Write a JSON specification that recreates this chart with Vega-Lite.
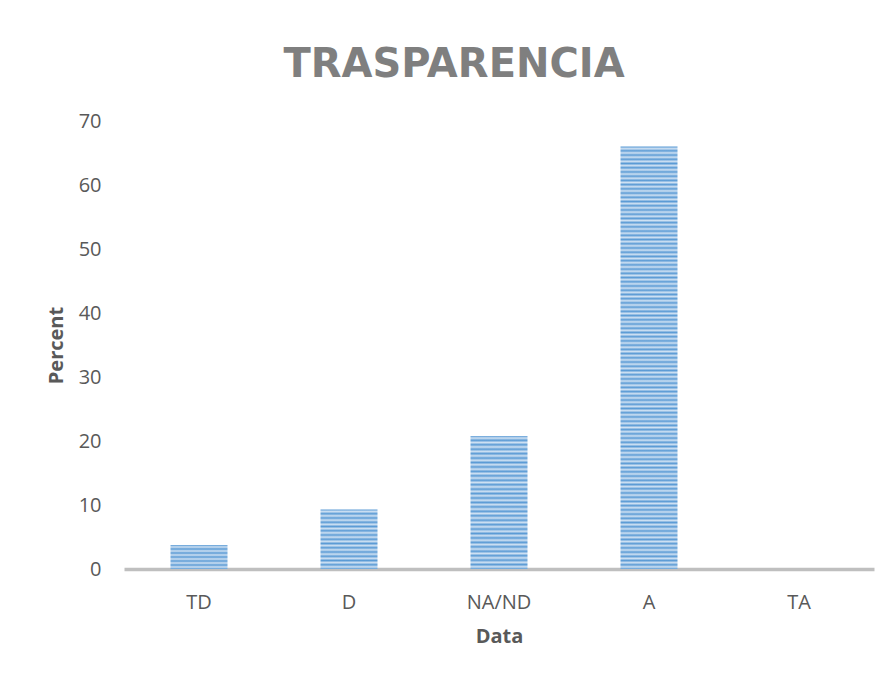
{
  "$schema": "https://vega.github.io/schema/vega-lite/v6.json",
  "autosize": "none",
  "width": 750,
  "height": 448,
  "padding": {"left": 124, "top": 121, "right": 17, "bottom": 107},
  "background": "white",
  "title": {
    "text": "TRASPARENCIA",
    "font": "DejaVu Sans",
    "fontSize": 40,
    "fontWeight": "bold",
    "color": "#7f7f7f",
    "anchor": "middle",
    "dx": -45,
    "dy": 38,
    "baseline": "alphabetic",
    "offset": 32
  },
  "data": {
    "values": [
      {"cat": "TD", "pct": 3.75},
      {"cat": "D", "pct": 9.3},
      {"cat": "NA/ND", "pct": 20.8},
      {"cat": "A", "pct": 66},
      {"cat": "TA", "pct": 0}
    ]
  },
  "mark": {"type": "bar"},
  "encoding": {
    "x": {
      "field": "cat",
      "type": "nominal",
      "sort": null,
      "scale": {"paddingInner": 0.62, "paddingOuter": 0.31},
      "axis": {
        "title": "Data",
        "labelAngle": 0,
        "domain": true,
        "domainColor": "#bfbfbf",
        "domainWidth": 3.5,
        "ticks": false,
        "grid": false,
        "labelFont": "Open Sans",
        "labelFontSize": 20,
        "labelColor": "#595959",
        "labelPadding": 23,
        "titleFont": "Open Sans",
        "titleFontSize": 20,
        "titleFontWeight": "bold",
        "titleColor": "#595959",
        "titlePadding": 14
      }
    },
    "y": {
      "field": "pct",
      "type": "quantitative",
      "scale": {"domain": [0, 70], "nice": false},
      "axis": {
        "title": "Percent",
        "values": [0, 10, 20, 30, 40, 50, 60, 70],
        "domain": false,
        "ticks": false,
        "grid": false,
        "labelFont": "Open Sans",
        "labelFontSize": 20,
        "labelColor": "#595959",
        "labelPadding": 23,
        "titleFont": "Open Sans",
        "titleFontSize": 20,
        "titleFontWeight": "bold",
        "titleColor": "#595959",
        "titlePadding": 12
      }
    },
    "fill": {
      "condition": [
        {"test": "datum.cat === 'TD'", "value": {"gradient": "linear", "x1": 0, "y1": 0, "x2": 0, "y2": 1, "stops": [
          {"offset": 0, "color": "#5b9bd5"}, {"offset": 0.0833, "color": "#cfe1f3"}, {"offset": 0.1667, "color": "#5b9bd5"}, {"offset": 0.25, "color": "#cfe1f3"}, {"offset": 0.3333, "color": "#5b9bd5"}, {"offset": 0.4167, "color": "#cfe1f3"}, {"offset": 0.5, "color": "#5b9bd5"}, {"offset": 0.5833, "color": "#cfe1f3"}, {"offset": 0.6667, "color": "#5b9bd5"}, {"offset": 0.75, "color": "#cfe1f3"}, {"offset": 0.8333, "color": "#5b9bd5"}, {"offset": 0.9167, "color": "#cfe1f3"}, {"offset": 1, "color": "#5b9bd5"}
        ]}},
        {"test": "datum.cat === 'D'", "value": {"gradient": "linear", "x1": 0, "y1": 0, "x2": 0, "y2": 1, "stops": [
          {"offset": 0, "color": "#5b9bd5"}, {"offset": 0.0357, "color": "#cfe1f3"}, {"offset": 0.0714, "color": "#5b9bd5"}, {"offset": 0.1071, "color": "#cfe1f3"}, {"offset": 0.1429, "color": "#5b9bd5"}, {"offset": 0.1786, "color": "#cfe1f3"}, {"offset": 0.2143, "color": "#5b9bd5"}, {"offset": 0.25, "color": "#cfe1f3"}, {"offset": 0.2857, "color": "#5b9bd5"}, {"offset": 0.3214, "color": "#cfe1f3"}, {"offset": 0.3571, "color": "#5b9bd5"}, {"offset": 0.3929, "color": "#cfe1f3"}, {"offset": 0.4286, "color": "#5b9bd5"}, {"offset": 0.4643, "color": "#cfe1f3"}, {"offset": 0.5, "color": "#5b9bd5"}, {"offset": 0.5357, "color": "#cfe1f3"}, {"offset": 0.5714, "color": "#5b9bd5"}, {"offset": 0.6071, "color": "#cfe1f3"}, {"offset": 0.6429, "color": "#5b9bd5"}, {"offset": 0.6786, "color": "#cfe1f3"}, {"offset": 0.7143, "color": "#5b9bd5"}, {"offset": 0.75, "color": "#cfe1f3"}, {"offset": 0.7857, "color": "#5b9bd5"}, {"offset": 0.8214, "color": "#cfe1f3"}, {"offset": 0.8571, "color": "#5b9bd5"}, {"offset": 0.8929, "color": "#cfe1f3"}, {"offset": 0.9286, "color": "#5b9bd5"}, {"offset": 0.9643, "color": "#cfe1f3"}, {"offset": 1, "color": "#5b9bd5"}
        ]}},
        {"test": "datum.cat === 'NA/ND'", "value": {"gradient": "linear", "x1": 0, "y1": 0, "x2": 0, "y2": 1, "stops": [
          {"offset": 0, "color": "#5b9bd5"}, {"offset": 0.0167, "color": "#cfe1f3"}, {"offset": 0.0333, "color": "#5b9bd5"}, {"offset": 0.05, "color": "#cfe1f3"}, {"offset": 0.0667, "color": "#5b9bd5"}, {"offset": 0.0833, "color": "#cfe1f3"}, {"offset": 0.1, "color": "#5b9bd5"}, {"offset": 0.1167, "color": "#cfe1f3"}, {"offset": 0.1333, "color": "#5b9bd5"}, {"offset": 0.15, "color": "#cfe1f3"}, {"offset": 0.1667, "color": "#5b9bd5"}, {"offset": 0.1833, "color": "#cfe1f3"}, {"offset": 0.2, "color": "#5b9bd5"}, {"offset": 0.2167, "color": "#cfe1f3"}, {"offset": 0.2333, "color": "#5b9bd5"}, {"offset": 0.25, "color": "#cfe1f3"}, {"offset": 0.2667, "color": "#5b9bd5"}, {"offset": 0.2833, "color": "#cfe1f3"}, {"offset": 0.3, "color": "#5b9bd5"}, {"offset": 0.3167, "color": "#cfe1f3"}, {"offset": 0.3333, "color": "#5b9bd5"}, {"offset": 0.35, "color": "#cfe1f3"}, {"offset": 0.3667, "color": "#5b9bd5"}, {"offset": 0.3833, "color": "#cfe1f3"}, {"offset": 0.4, "color": "#5b9bd5"}, {"offset": 0.4167, "color": "#cfe1f3"}, {"offset": 0.4333, "color": "#5b9bd5"}, {"offset": 0.45, "color": "#cfe1f3"}, {"offset": 0.4667, "color": "#5b9bd5"}, {"offset": 0.4833, "color": "#cfe1f3"}, {"offset": 0.5, "color": "#5b9bd5"}, {"offset": 0.5167, "color": "#cfe1f3"}, {"offset": 0.5333, "color": "#5b9bd5"}, {"offset": 0.55, "color": "#cfe1f3"}, {"offset": 0.5667, "color": "#5b9bd5"}, {"offset": 0.5833, "color": "#cfe1f3"}, {"offset": 0.6, "color": "#5b9bd5"}, {"offset": 0.6167, "color": "#cfe1f3"}, {"offset": 0.6333, "color": "#5b9bd5"}, {"offset": 0.65, "color": "#cfe1f3"}, {"offset": 0.6667, "color": "#5b9bd5"}, {"offset": 0.6833, "color": "#cfe1f3"}, {"offset": 0.7, "color": "#5b9bd5"}, {"offset": 0.7167, "color": "#cfe1f3"}, {"offset": 0.7333, "color": "#5b9bd5"}, {"offset": 0.75, "color": "#cfe1f3"}, {"offset": 0.7667, "color": "#5b9bd5"}, {"offset": 0.7833, "color": "#cfe1f3"}, {"offset": 0.8, "color": "#5b9bd5"}, {"offset": 0.8167, "color": "#cfe1f3"}, {"offset": 0.8333, "color": "#5b9bd5"}, {"offset": 0.85, "color": "#cfe1f3"}, {"offset": 0.8667, "color": "#5b9bd5"}, {"offset": 0.8833, "color": "#cfe1f3"}, {"offset": 0.9, "color": "#5b9bd5"}, {"offset": 0.9167, "color": "#cfe1f3"}, {"offset": 0.9333, "color": "#5b9bd5"}, {"offset": 0.95, "color": "#cfe1f3"}, {"offset": 0.9667, "color": "#5b9bd5"}, {"offset": 0.9833, "color": "#cfe1f3"}, {"offset": 1, "color": "#5b9bd5"}
        ]}},
        {"test": "datum.cat === 'A'", "value": {"gradient": "linear", "x1": 0, "y1": 0, "x2": 0, "y2": 1, "stops": [
          {"offset": 0, "color": "#5b9bd5"}, {"offset": 0.005, "color": "#cfe1f3"}, {"offset": 0.01, "color": "#5b9bd5"}, {"offset": 0.015, "color": "#cfe1f3"}, {"offset": 0.02, "color": "#5b9bd5"}, {"offset": 0.025, "color": "#cfe1f3"}, {"offset": 0.03, "color": "#5b9bd5"}, {"offset": 0.035, "color": "#cfe1f3"}, {"offset": 0.04, "color": "#5b9bd5"}, {"offset": 0.045, "color": "#cfe1f3"},
          {"offset": 0.05, "color": "#5b9bd5"}, {"offset": 0.055, "color": "#cfe1f3"}, {"offset": 0.06, "color": "#5b9bd5"}, {"offset": 0.065, "color": "#cfe1f3"}, {"offset": 0.07, "color": "#5b9bd5"}, {"offset": 0.075, "color": "#cfe1f3"}, {"offset": 0.08, "color": "#5b9bd5"}, {"offset": 0.085, "color": "#cfe1f3"}, {"offset": 0.09, "color": "#5b9bd5"}, {"offset": 0.095, "color": "#cfe1f3"},
          {"offset": 0.1, "color": "#5b9bd5"}, {"offset": 0.105, "color": "#cfe1f3"}, {"offset": 0.11, "color": "#5b9bd5"}, {"offset": 0.115, "color": "#cfe1f3"}, {"offset": 0.12, "color": "#5b9bd5"}, {"offset": 0.125, "color": "#cfe1f3"}, {"offset": 0.13, "color": "#5b9bd5"}, {"offset": 0.135, "color": "#cfe1f3"}, {"offset": 0.14, "color": "#5b9bd5"}, {"offset": 0.145, "color": "#cfe1f3"},
          {"offset": 0.15, "color": "#5b9bd5"}, {"offset": 0.155, "color": "#cfe1f3"}, {"offset": 0.16, "color": "#5b9bd5"}, {"offset": 0.165, "color": "#cfe1f3"}, {"offset": 0.17, "color": "#5b9bd5"}, {"offset": 0.175, "color": "#cfe1f3"}, {"offset": 0.18, "color": "#5b9bd5"}, {"offset": 0.185, "color": "#cfe1f3"}, {"offset": 0.19, "color": "#5b9bd5"}, {"offset": 0.195, "color": "#cfe1f3"},
          {"offset": 0.2, "color": "#5b9bd5"}, {"offset": 0.205, "color": "#cfe1f3"}, {"offset": 0.21, "color": "#5b9bd5"}, {"offset": 0.215, "color": "#cfe1f3"}, {"offset": 0.22, "color": "#5b9bd5"}, {"offset": 0.225, "color": "#cfe1f3"}, {"offset": 0.23, "color": "#5b9bd5"}, {"offset": 0.235, "color": "#cfe1f3"}, {"offset": 0.24, "color": "#5b9bd5"}, {"offset": 0.245, "color": "#cfe1f3"},
          {"offset": 0.25, "color": "#5b9bd5"}, {"offset": 0.255, "color": "#cfe1f3"}, {"offset": 0.26, "color": "#5b9bd5"}, {"offset": 0.265, "color": "#cfe1f3"}, {"offset": 0.27, "color": "#5b9bd5"}, {"offset": 0.275, "color": "#cfe1f3"}, {"offset": 0.28, "color": "#5b9bd5"}, {"offset": 0.285, "color": "#cfe1f3"}, {"offset": 0.29, "color": "#5b9bd5"}, {"offset": 0.295, "color": "#cfe1f3"},
          {"offset": 0.3, "color": "#5b9bd5"}, {"offset": 0.305, "color": "#cfe1f3"}, {"offset": 0.31, "color": "#5b9bd5"}, {"offset": 0.315, "color": "#cfe1f3"}, {"offset": 0.32, "color": "#5b9bd5"}, {"offset": 0.325, "color": "#cfe1f3"}, {"offset": 0.33, "color": "#5b9bd5"}, {"offset": 0.335, "color": "#cfe1f3"}, {"offset": 0.34, "color": "#5b9bd5"}, {"offset": 0.345, "color": "#cfe1f3"},
          {"offset": 0.35, "color": "#5b9bd5"}, {"offset": 0.355, "color": "#cfe1f3"}, {"offset": 0.36, "color": "#5b9bd5"}, {"offset": 0.365, "color": "#cfe1f3"}, {"offset": 0.37, "color": "#5b9bd5"}, {"offset": 0.375, "color": "#cfe1f3"}, {"offset": 0.38, "color": "#5b9bd5"}, {"offset": 0.385, "color": "#cfe1f3"}, {"offset": 0.39, "color": "#5b9bd5"}, {"offset": 0.395, "color": "#cfe1f3"},
          {"offset": 0.4, "color": "#5b9bd5"}, {"offset": 0.405, "color": "#cfe1f3"}, {"offset": 0.41, "color": "#5b9bd5"}, {"offset": 0.415, "color": "#cfe1f3"}, {"offset": 0.42, "color": "#5b9bd5"}, {"offset": 0.425, "color": "#cfe1f3"}, {"offset": 0.43, "color": "#5b9bd5"}, {"offset": 0.435, "color": "#cfe1f3"}, {"offset": 0.44, "color": "#5b9bd5"}, {"offset": 0.445, "color": "#cfe1f3"},
          {"offset": 0.45, "color": "#5b9bd5"}, {"offset": 0.455, "color": "#cfe1f3"}, {"offset": 0.46, "color": "#5b9bd5"}, {"offset": 0.465, "color": "#cfe1f3"}, {"offset": 0.47, "color": "#5b9bd5"}, {"offset": 0.475, "color": "#cfe1f3"}, {"offset": 0.48, "color": "#5b9bd5"}, {"offset": 0.485, "color": "#cfe1f3"}, {"offset": 0.49, "color": "#5b9bd5"}, {"offset": 0.495, "color": "#cfe1f3"},
          {"offset": 0.5, "color": "#5b9bd5"}, {"offset": 0.505, "color": "#cfe1f3"}, {"offset": 0.51, "color": "#5b9bd5"}, {"offset": 0.515, "color": "#cfe1f3"}, {"offset": 0.52, "color": "#5b9bd5"}, {"offset": 0.525, "color": "#cfe1f3"}, {"offset": 0.53, "color": "#5b9bd5"}, {"offset": 0.535, "color": "#cfe1f3"}, {"offset": 0.54, "color": "#5b9bd5"}, {"offset": 0.545, "color": "#cfe1f3"},
          {"offset": 0.55, "color": "#5b9bd5"}, {"offset": 0.555, "color": "#cfe1f3"}, {"offset": 0.56, "color": "#5b9bd5"}, {"offset": 0.565, "color": "#cfe1f3"}, {"offset": 0.57, "color": "#5b9bd5"}, {"offset": 0.575, "color": "#cfe1f3"}, {"offset": 0.58, "color": "#5b9bd5"}, {"offset": 0.585, "color": "#cfe1f3"}, {"offset": 0.59, "color": "#5b9bd5"}, {"offset": 0.595, "color": "#cfe1f3"},
          {"offset": 0.6, "color": "#5b9bd5"}, {"offset": 0.605, "color": "#cfe1f3"}, {"offset": 0.61, "color": "#5b9bd5"}, {"offset": 0.615, "color": "#cfe1f3"}, {"offset": 0.62, "color": "#5b9bd5"}, {"offset": 0.625, "color": "#cfe1f3"}, {"offset": 0.63, "color": "#5b9bd5"}, {"offset": 0.635, "color": "#cfe1f3"}, {"offset": 0.64, "color": "#5b9bd5"}, {"offset": 0.645, "color": "#cfe1f3"},
          {"offset": 0.65, "color": "#5b9bd5"}, {"offset": 0.655, "color": "#cfe1f3"}, {"offset": 0.66, "color": "#5b9bd5"}, {"offset": 0.665, "color": "#cfe1f3"}, {"offset": 0.67, "color": "#5b9bd5"}, {"offset": 0.675, "color": "#cfe1f3"}, {"offset": 0.68, "color": "#5b9bd5"}, {"offset": 0.685, "color": "#cfe1f3"}, {"offset": 0.69, "color": "#5b9bd5"}, {"offset": 0.695, "color": "#cfe1f3"},
          {"offset": 0.7, "color": "#5b9bd5"}, {"offset": 0.705, "color": "#cfe1f3"}, {"offset": 0.71, "color": "#5b9bd5"}, {"offset": 0.715, "color": "#cfe1f3"}, {"offset": 0.72, "color": "#5b9bd5"}, {"offset": 0.725, "color": "#cfe1f3"}, {"offset": 0.73, "color": "#5b9bd5"}, {"offset": 0.735, "color": "#cfe1f3"}, {"offset": 0.74, "color": "#5b9bd5"}, {"offset": 0.745, "color": "#cfe1f3"},
          {"offset": 0.75, "color": "#5b9bd5"}, {"offset": 0.755, "color": "#cfe1f3"}, {"offset": 0.76, "color": "#5b9bd5"}, {"offset": 0.765, "color": "#cfe1f3"}, {"offset": 0.77, "color": "#5b9bd5"}, {"offset": 0.775, "color": "#cfe1f3"}, {"offset": 0.78, "color": "#5b9bd5"}, {"offset": 0.785, "color": "#cfe1f3"}, {"offset": 0.79, "color": "#5b9bd5"}, {"offset": 0.795, "color": "#cfe1f3"},
          {"offset": 0.8, "color": "#5b9bd5"}, {"offset": 0.805, "color": "#cfe1f3"}, {"offset": 0.81, "color": "#5b9bd5"}, {"offset": 0.815, "color": "#cfe1f3"}, {"offset": 0.82, "color": "#5b9bd5"}, {"offset": 0.825, "color": "#cfe1f3"}, {"offset": 0.83, "color": "#5b9bd5"}, {"offset": 0.835, "color": "#cfe1f3"}, {"offset": 0.84, "color": "#5b9bd5"}, {"offset": 0.845, "color": "#cfe1f3"},
          {"offset": 0.85, "color": "#5b9bd5"}, {"offset": 0.855, "color": "#cfe1f3"}, {"offset": 0.86, "color": "#5b9bd5"}, {"offset": 0.865, "color": "#cfe1f3"}, {"offset": 0.87, "color": "#5b9bd5"}, {"offset": 0.875, "color": "#cfe1f3"}, {"offset": 0.88, "color": "#5b9bd5"}, {"offset": 0.885, "color": "#cfe1f3"}, {"offset": 0.89, "color": "#5b9bd5"}, {"offset": 0.895, "color": "#cfe1f3"},
          {"offset": 0.9, "color": "#5b9bd5"}, {"offset": 0.905, "color": "#cfe1f3"}, {"offset": 0.91, "color": "#5b9bd5"}, {"offset": 0.915, "color": "#cfe1f3"}, {"offset": 0.92, "color": "#5b9bd5"}, {"offset": 0.925, "color": "#cfe1f3"}, {"offset": 0.93, "color": "#5b9bd5"}, {"offset": 0.935, "color": "#cfe1f3"}, {"offset": 0.94, "color": "#5b9bd5"}, {"offset": 0.945, "color": "#cfe1f3"},
          {"offset": 0.95, "color": "#5b9bd5"}, {"offset": 0.955, "color": "#cfe1f3"}, {"offset": 0.96, "color": "#5b9bd5"}, {"offset": 0.965, "color": "#cfe1f3"}, {"offset": 0.97, "color": "#5b9bd5"}, {"offset": 0.975, "color": "#cfe1f3"}, {"offset": 0.98, "color": "#5b9bd5"}, {"offset": 0.985, "color": "#cfe1f3"}, {"offset": 0.99, "color": "#5b9bd5"}, {"offset": 0.995, "color": "#cfe1f3"},
          {"offset": 1, "color": "#5b9bd5"}
        ]}}
      ],
      "value": "#7eb0df"
    }
  },
  "config": {
    "view": {"stroke": null}
  }
}
